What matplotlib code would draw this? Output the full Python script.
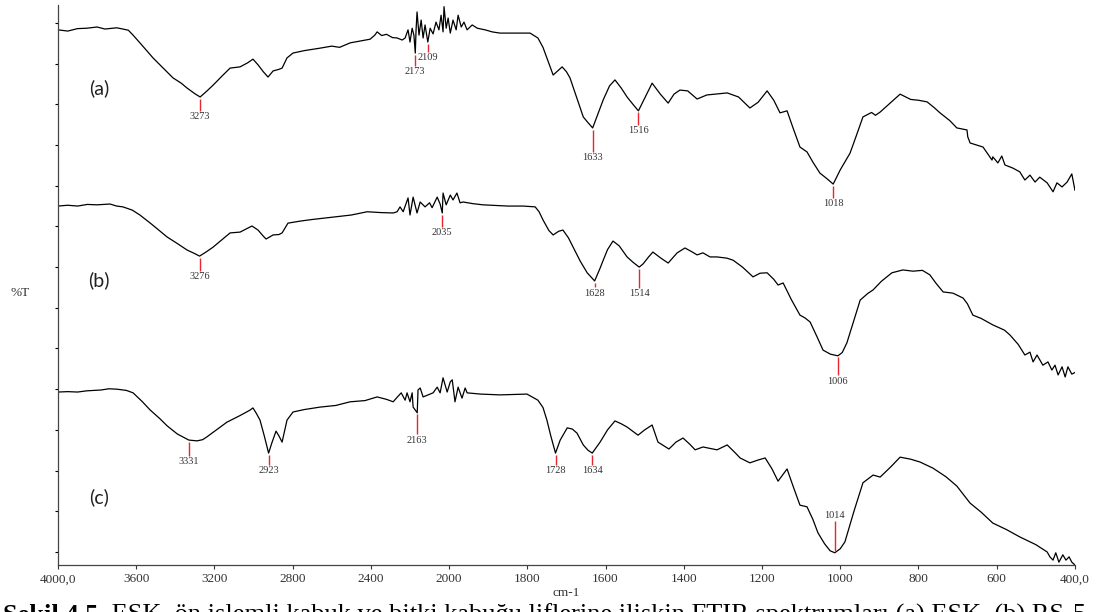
import numpy as np
import matplotlib.pyplot as plt
from matplotlib.ticker import FixedLocator, FixedFormatter, NullLocator

plt.rcParams['font.family'] = 'Liberation Serif'

# FTIR spectra, wavenumber (cm-1) vs %T, stacked with an offset per sample
wn_a = [4000, 3950, 3900, 3852, 3800, 3760, 3700, 3668, 3640, 3616, 3570, 3514, 3460, 3412,
        3370, 3340, 3300, 3273, 3240, 3207, 3160, 3120, 3069, 3030, 3003, 2977, 2950, 2926,
        2900, 2870, 2854, 2829, 2798, 2740, 2660, 2600, 2560, 2506, 2450, 2404, 2380, 2368,
        2345, 2320, 2290, 2266, 2240, 2225, 2210, 2200, 2189, 2180, 2173, 2169, 2164, 2154,
        2143, 2133, 2123, 2109, 2097, 2082, 2067, 2052, 2041, 2031, 2026, 2015, 2005, 1997,
        1990, 1982, 1977, 1969, 1962, 1954, 1941, 1928, 1908, 1890, 1870, 1820, 1793, 1773,
        1760, 1750, 1734, 1720, 1711, 1700, 1691, 1675, 1657, 1645, 1633, 1620, 1606, 1590,
        1576, 1560, 1545, 1530, 1516, 1500, 1481, 1460, 1440, 1425, 1410, 1390, 1366, 1341,
        1310, 1289, 1260, 1231, 1210, 1187, 1170, 1154, 1136, 1120, 1103, 1085, 1070, 1052,
        1035, 1018, 1000, 975, 960, 942, 920, 910, 898, 870, 847, 820, 800, 778, 760, 745,
        720, 702, 676, 674, 668, 635, 612, 610, 597, 587, 579, 558, 541, 528, 515, 502, 490,
        471, 456, 446, 433, 420, 408, 400]
t_a = [128.3, 128.0, 128.6, 128.7, 129.0, 128.5, 128.8, 128.5, 128.2, 127.0, 124.5, 121.4,
       118.8, 116.5, 115.2, 114.0, 112.6, 111.8, 113.2, 114.7, 117.0, 118.9, 119.2, 120.2,
       121.1, 119.7, 118.0, 116.7, 118.2, 118.6, 118.9, 121.4, 122.6, 123.2, 123.8, 124.3,
       124.0, 125.1, 125.6, 126.0, 127.0, 127.8, 126.9, 127.2, 126.4, 126.3, 125.8, 126.3,
       128.3, 125.3, 128.7, 127.0, 122.6, 128.3, 132.7, 127.0, 130.7, 126.3, 129.5, 125.3,
       128.7, 127.3, 130.2, 128.3, 131.9, 127.8, 134.0, 128.7, 131.2, 127.5, 130.7, 128.3,
       131.9, 129.0, 130.2, 128.3, 129.5, 128.7, 128.3, 127.8, 127.5, 127.5, 127.5, 126.3,
       124.0, 121.4, 117.2, 118.4, 119.2, 118.0, 116.5, 112.0, 106.9, 105.5, 104.2, 107.5,
       111.1, 114.5, 116.0, 114.0, 111.8, 110.0, 108.4, 111.5, 115.2, 112.5, 110.3, 112.5,
       113.5, 113.3, 111.3, 112.3, 112.6, 112.8, 111.8, 109.1, 110.5, 113.3, 111.0, 107.9,
       108.4, 104.0, 99.5, 98.3, 95.8, 93.1, 91.8, 90.4, 93.9, 98.0, 102.0, 106.9, 108.0,
       107.3, 108.1, 110.5, 112.5, 111.2, 111.0, 110.6, 109.2, 107.9, 106.0, 104.2, 103.7,
       102.0, 100.5, 99.5, 96.3, 97.1, 95.6, 97.3, 95.1, 94.3, 93.4, 91.4, 92.6, 90.9, 92.1,
       90.7, 88.5, 90.7, 89.7, 90.9, 92.9, 88.9]

wn_b = [4000, 3950, 3900, 3850, 3800, 3734, 3700, 3668, 3620, 3581, 3520, 3442, 3390, 3340,
        3300, 3276, 3240, 3207, 3160, 3120, 3069, 3040, 3008, 2977, 2950, 2936, 2900, 2870,
        2854, 2824, 2762, 2700, 2593, 2500, 2419, 2350, 2286, 2266, 2251, 2235, 2210, 2200,
        2184, 2164, 2148, 2123, 2100, 2087, 2061, 2046, 2035, 2031, 2015, 1997, 1990, 1980,
        1972, 1964, 1940, 1913, 1850, 1811, 1780, 1770, 1760, 1745, 1734, 1720, 1709, 1695,
        1683, 1665, 1647, 1628, 1615, 1606, 1595, 1581, 1565, 1545, 1530, 1514, 1504, 1490,
        1479, 1460, 1440, 1417, 1397, 1380, 1366, 1351, 1333, 1315, 1290, 1274, 1250, 1223,
        1205, 1187, 1170, 1159, 1146, 1125, 1103, 1090, 1077, 1060, 1044, 1025, 1006, 995,
        983, 965, 949, 930, 916, 895, 868, 840, 814, 790, 771, 755, 737, 712, 686, 675, 661,
        640, 610, 580, 566, 545, 536, 528, 515, 507, 497, 482, 469, 459, 451, 443, 433, 425,
        418, 408, 398]
t_b = [85.0, 85.2, 85.0, 85.4, 85.3, 85.5, 85.0, 84.8, 84.0, 82.8, 80.5, 77.4, 75.8, 74.2,
       73.3, 72.7, 73.8, 74.9, 76.8, 78.4, 78.6, 79.3, 80.1, 79.1, 77.6, 76.9, 77.9, 78.0,
       78.4, 80.8, 81.3, 81.7, 82.3, 82.8, 83.6, 83.4, 83.3, 83.6, 84.8, 83.6, 87.0, 82.8,
       87.2, 83.3, 86.0, 84.8, 85.8, 84.6, 87.2, 85.5, 83.3, 88.2, 85.3, 87.7, 86.5, 88.2,
       85.8, 86.0, 85.6, 85.3, 85.0, 85.0, 84.8, 83.6, 81.6, 79.0, 77.9, 78.8, 79.1, 77.2,
       74.9, 71.5, 68.6, 66.6, 69.5, 71.7, 74.3, 76.4, 75.2, 72.5, 71.2, 70.0, 70.8, 72.5,
       73.7, 72.3, 71.0, 73.5, 74.7, 73.8, 73.0, 73.5, 72.5, 72.5, 72.2, 71.7, 70.0, 67.6,
       68.5, 68.6, 67.0, 65.6, 66.1, 62.0, 58.2, 57.5, 56.5, 53.0, 49.6, 48.6, 48.2, 49.0,
       51.4, 57.0, 61.9, 63.5, 64.4, 66.5, 68.6, 69.3, 69.0, 69.2, 68.1, 66.0, 63.9, 63.6,
       62.4, 61.0, 58.2, 57.4, 55.8, 54.5, 53.3, 51.0, 49.6, 48.4, 49.1, 46.7, 48.4, 45.9,
       46.7, 44.7, 45.9, 43.5, 45.5, 43.0, 45.5, 43.7, 44.2]

wn_c = [4000, 3950, 3900, 3852, 3780, 3740, 3698, 3650, 3616, 3570, 3529, 3480, 3442, 3390,
        3331, 3289, 3260, 3238, 3190, 3136, 3070, 3020, 3003, 2985, 2967, 2945, 2923, 2905,
        2885, 2870, 2854, 2840, 2829, 2798, 2740, 2660, 2580, 2506, 2430, 2368, 2320, 2286,
        2266, 2245, 2225, 2215, 2200, 2189, 2184, 2163, 2159, 2148, 2133, 2108, 2082, 2061,
        2046, 2031, 2010, 1997, 1992, 1985, 1977, 1967, 1959, 1954, 1920, 1870, 1801, 1773,
        1760, 1750, 1740, 1728, 1716, 1698, 1685, 1673, 1657, 1645, 1634, 1614, 1595, 1576,
        1560, 1545, 1517, 1500, 1481, 1466, 1438, 1420, 1402, 1385, 1371, 1351, 1315, 1289,
        1270, 1256, 1231, 1210, 1192, 1175, 1159, 1136, 1120, 1103, 1085, 1070, 1057, 1040,
        1026, 1014, 1000, 988, 965, 942, 916, 898, 870, 847, 820, 796, 763, 730, 702, 668,
        640, 610, 575, 541, 500, 471, 464, 456, 449, 441, 431, 423, 415, 408, 400]
t_c = [39.3, 39.4, 39.3, 39.6, 39.8, 40.1, 40.0, 39.7, 39.1, 37.0, 34.9, 32.8, 31.0, 29.0,
       27.5, 27.3, 27.6, 28.3, 30.0, 31.9, 33.5, 34.8, 35.4, 34.0, 32.4, 28.5, 24.3, 27.0,
       29.7, 28.5, 27.0, 30.0, 32.4, 34.4, 35.0, 35.6, 36.0, 36.9, 37.2, 38.1, 37.5, 36.9,
       38.0, 39.1, 37.3, 39.1, 36.9, 39.1, 35.6, 34.2, 39.8, 40.3, 38.1, 38.6, 39.1, 40.5,
       39.1, 42.8, 39.3, 41.8, 42.3, 36.9, 40.5, 37.8, 40.3, 39.1, 38.8, 38.6, 38.8, 37.3,
       35.5, 32.4, 28.5, 24.3, 27.5, 30.5, 30.2, 29.2, 26.3, 25.0, 24.3, 27.0, 30.0, 32.2,
       31.5, 30.7, 28.7, 30.0, 31.2, 27.0, 25.3, 27.0, 28.0, 26.5, 25.1, 25.8, 25.1, 26.3,
       24.5, 23.1, 21.9, 22.6, 23.1, 20.5, 17.4, 20.4, 16.0, 11.5, 11.1, 8.0, 4.7, 2.0,
       0.3, -0.2, 0.8, 2.5, 10.0, 17.0, 18.9, 18.4, 21.0, 23.3, 22.8, 22.1, 20.6, 18.5, 16.2,
       12.0, 9.8, 7.1, 5.5, 3.7, 1.8, 0.0, -1.2, -2.0, -0.2, -2.5, -0.7, -2.0, -1.2, -2.5,
       -3.2]

# picked peaks (cm-1) and the length of each marker stem (negative = above the curve)
peaks_a = [3273, 2173, 2109, 1633, 1516, 1018]
stems_a = [3.0, 2.7, 2.0, 5.4, 3.0, 3.0]
peaks_b = [3276, 2035, 1628, 1514, 1006]
stems_b = [3.2, 3.0, 1.2, 4.7, 4.4]
peaks_c = [3331, 2923, 2163, 1728, 1634, 1014]
stems_c = [3.4, 2.5, 4.9, 2.5, 2.5, -7.4]

sample_tags = ['(a)', '(b)', '(c)']

x_ticks = [4000, 3600, 3200, 2800, 2400, 2000, 1800, 1600, 1400, 1200, 1000, 800, 600, 400]
x_ticklabels = ['4000,0', '3600', '3200', '2800', '2400', '2000', '1800', '1600', '1400',
                '1200', '1000', '800', '600', '400,0']

caption_bold = 'Şekil 4.5.'
caption_text = (' ESK, ön işlemli kabuk ve bitki kabuğu liflerine ilişkin FTIR spektrumları '
                '(a) ESK, (b) RS-5')


# the wavenumber axis is expanded 2x below 2000 cm-1
def forward(w):
    w = np.asarray(w, dtype=float)
    return np.where(w >= 2000, w, 2 * w - 2000)


def inverse(u):
    u = np.asarray(u, dtype=float)
    return np.where(u >= 2000, u, (u + 2000) / 2)


def mark_peaks(ax, wn, t, peaks, stems):
    wn_r = np.asarray(wn, dtype=float)[::-1]
    t_r = np.asarray(t, dtype=float)[::-1]
    for p, s in zip(peaks, stems):
        y = np.interp(p, wn_r, t_r)
        sign = 1 if s > 0 else -1
        y0 = y - 0.4 * sign
        y1 = y0 - s
        ax.plot([p, p], [y0, y1], color='#e8262d', lw=1.0, solid_capstyle='butt')
        ax.text(p, y1 - 0.3 * sign, str(p), ha='center',
                va='top' if sign > 0 else 'bottom', fontsize=7.5, color='#333333')


fig, ax = plt.subplots(figsize=(10.98, 6.12), dpi=100)
fig.subplots_adjust(left=0.0528, right=0.979, bottom=0.0768, top=0.9918)

ax.set_xscale('function', functions=(forward, inverse))
ax.set_xlim(4000, 400)
ax.set_ylim(-3.2, 134.4)

for wn, t, peaks, stems in [(wn_a, t_a, peaks_a, stems_a),
                            (wn_b, t_b, peaks_b, stems_b),
                            (wn_c, t_c, peaks_c, stems_c)]:
    ax.plot(wn, t, color='black', lw=0.9)
    mark_peaks(ax, wn, t, peaks, stems)

# sample tags next to each trace
for tag, y in zip(sample_tags, [114.0, 66.8, 13.5]):
    ax.text(3790, y, tag, fontsize=14, family='Lato', color='#222222',
            ha='center', va='center')

ax.xaxis.set_major_locator(FixedLocator(x_ticks))
ax.xaxis.set_major_formatter(FixedFormatter(x_ticklabels))
ax.xaxis.set_minor_locator(NullLocator())
ax.set_yticks(np.arange(0, 131, 10))
ax.set_yticklabels([])
ax.yaxis.set_minor_locator(NullLocator())
ax.tick_params(axis='x', direction='out', length=3, width=0.8, pad=3,
               labelsize=9.5, colors='#333333')
ax.tick_params(axis='y', direction='out', length=2.5, width=0.8)

for side in ['top', 'right']:
    ax.spines[side].set_visible(False)
for side in ['left', 'bottom']:
    ax.spines[side].set_linewidth(0.9)
    ax.spines[side].set_color('#444444')

ax.set_xlabel('cm-1', fontsize=9.5, labelpad=1, color='#333333')
fig.text(20 / 1098, 1 - 293 / 612, '%T', fontsize=9.5, ha='center', va='center',
         color='#333333')

# figure caption sitting under the axis, running off the bottom edge
base_y = 1 - 622 / 612
bold = fig.text(3 / 1098, base_y, caption_bold, fontsize=19, fontweight='bold',
                va='baseline')
fig.canvas.draw()
bb = bold.get_window_extent()
fig.text(bb.x1 / fig.bbox.width, base_y, caption_text, fontsize=19, va='baseline')

fig.savefig('out.png', dpi=100)
